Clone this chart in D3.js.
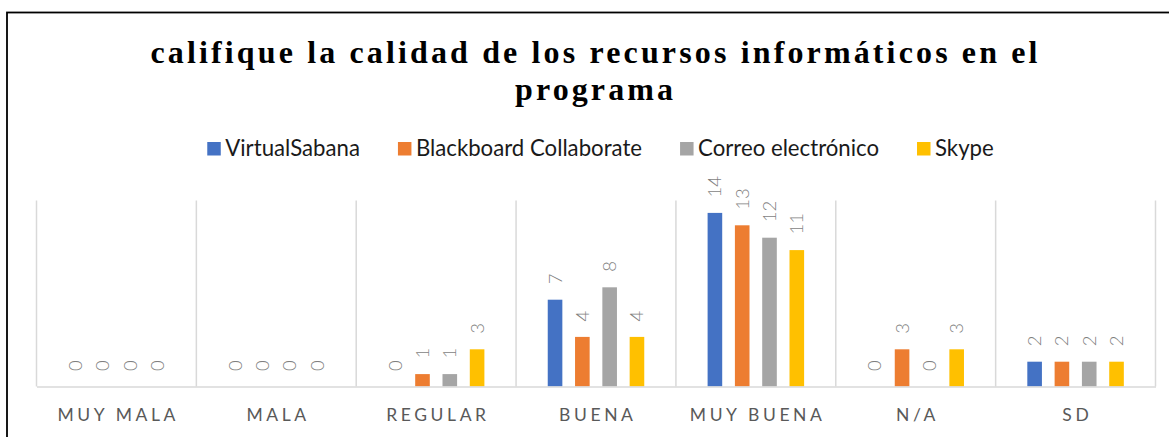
<!DOCTYPE html>
<html>
<head>
<meta charset="utf-8">
<style>
    body { margin: 0; background: #fff; }
    svg { display: block; }
</style>
</head>
<body>
<svg id="chart" width="1169" height="437"></svg>
<script src="https://d3js.org/d3.v7.min.js"></script>
<script>
    // data
    const categories = ["MUY MALA", "MALA", "REGULAR", "BUENA", "MUY BUENA", "N/A", "SD"];
    const seriesNames = ["VirtualSabana", "Blackboard Collaborate", "Correo electrónico", "Skype"];
    const virtualSabana = [0, 0, 0, 7, 14, 0, 2];
    const blackboard = [0, 0, 1, 4, 13, 3, 2];
    const correo = [0, 0, 1, 8, 12, 0, 2];
    const skype = [0, 0, 3, 4, 11, 3, 2];
    const seriesColors = ["#4472C4", "#ED7D31", "#A5A5A5", "#FFC000"];
    const titleLines = ["califique la calidad de los recursos informáticos en el", "programa"];

    const allSeries = [virtualSabana, blackboard, correo, skype];
    const sans = "Lato, 'Liberation Sans', sans-serif";

    let svg = d3.select("#chart");

    // chart frame (runs past the right and bottom edges)
    svg.append("rect")
        .attr("x", 7).attr("y", 12.5)
        .attr("width", 1200).attr("height", 500)
        .attr("fill", "none")
        .attr("stroke", "#000")
        .attr("stroke-width", 1.8);

    // title
    let title = svg.append("text")
        .attr("font-family", "'Liberation Serif', 'Times New Roman', serif")
        .attr("font-weight", "bold")
        .attr("font-size", 32)
        .attr("fill", "#000")
        .attr("text-anchor", "middle");
    title.append("tspan").attr("x", 594).attr("y", 63)
        .attr("textLength", 887).attr("lengthAdjust", "spacing")
        .text(titleLines[0]);
    title.append("tspan").attr("x", 594).attr("y", 100)
        .attr("textLength", 158).attr("lengthAdjust", "spacing")
        .text(titleLines[1]);

    // legend
    let legend = svg.append("g");
    let items = legend.selectAll("g").data(seriesNames).enter().append("g");
    items.append("rect")
        .attr("width", 13.5).attr("height", 13.5)
        .attr("y", 142)
        .attr("fill", function (d, i) { return seriesColors[i]; });
    items.append("text")
        .attr("x", 18).attr("y", 156)
        .attr("font-family", sans)
        .attr("font-size", 22.2)
        .attr("fill", "#1a1a1a")
        .text(function (d) { return d; });
    let offsets = [];
    let pos = 0;
    items.each(function (d, i) {
        let w = 18 + this.querySelector("text").getComputedTextLength();
        offsets.push(pos);
        pos += w + 38;
    });
    let legendWidth = pos - 38;
    items.attr("transform", function (d, i) {
        return "translate(" + (600.5 - legendWidth / 2 + offsets[i]) + ",0)";
    });

    // scales
    let x0 = d3.scaleBand().domain(categories).range([36.5, 1155.5]);
    let x1 = d3.scaleBand().domain(seriesNames).range([0, x0.bandwidth()])
        .paddingInner(0.465).paddingOuter(1.16);
    let y = d3.scaleLinear().domain([0, 15]).range([386.5, 200.5]);

    // vertical separators between categories
    let bounds = categories.map(function (c) { return x0(c); }).concat([x0.range()[1]]);
    svg.append("g").selectAll("line").data(bounds).enter().append("line")
        .attr("x1", function (d) { return d; })
        .attr("x2", function (d) { return d; })
        .attr("y1", y(15)).attr("y2", y(0))
        .attr("stroke", "#d9d9d9")
        .attr("stroke-width", 1.5);

    // bars
    let groups = svg.append("g").selectAll("g").data(categories).enter().append("g")
        .attr("transform", function (d) { return "translate(" + x0(d) + ",0)"; });

    groups.selectAll("rect")
        .data(function (d, ci) {
            return seriesNames.map(function (s, si) { return { s: s, si: si, v: allSeries[si][ci] }; });
        })
        .enter().append("rect")
        .attr("x", function (d) { return x1(d.s); })
        .attr("width", x1.bandwidth())
        .attr("y", function (d) { return y(d.v); })
        .attr("height", function (d) { return y(0) - y(d.v); })
        .attr("fill", function (d) { return seriesColors[d.si]; });

    // value labels, rotated
    groups.selectAll("text")
        .data(function (d, ci) {
            return seriesNames.map(function (s, si) { return { s: s, v: allSeries[si][ci] }; });
        })
        .enter().append("text")
        .attr("transform", function (d) {
            return "translate(" + (x1(d.s) + x1.bandwidth() / 2) + "," + (y(d.v) - 15.5) + ") rotate(-90)";
        })
        .attr("dy", "0.35em")
        .attr("font-family", sans)
        .attr("font-weight", 300)
        .attr("font-size", 18.5)
        .attr("fill", "#7f7f7f")
        .text(function (d) { return d.v; });

    // axis line
    let xAxis = svg.append("g")
        .attr("transform", "translate(0," + y(0) + ")")
        .call(d3.axisBottom(x0).tickSize(0).tickPadding(22));
    xAxis.select(".domain").attr("stroke", "#d9d9d9").attr("stroke-width", 1.5);
    xAxis.selectAll("text")
        .attr("font-family", sans)
        .attr("font-size", 17.5)
        .attr("letter-spacing", "3.6px")
        .attr("fill", "#595959")
        .attr("dy", "0.71em")
        .attr("dx", "1.8px");
</script>
</body>
</html>
